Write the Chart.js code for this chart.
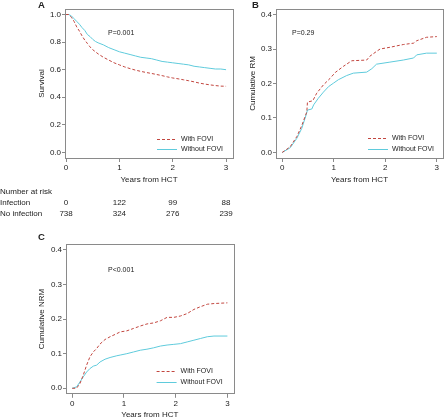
<!DOCTYPE html>
<html><head><meta charset="utf-8">
<script src="https://cdn.jsdelivr.net/npm/chart.js@4.4.1/dist/chart.umd.min.js"></script>
<style>
html,body{margin:0;padding:0;background:#fff;}
body{width:444px;height:420px;position:relative;overflow:hidden;font-family:"Liberation Sans",Arial,sans-serif;color:#222;}
canvas{position:absolute;}
.lbl{position:absolute;font-size:8px;line-height:10px;white-space:nowrap;}
.num{transform:translateX(-50%);}
.panel{position:absolute;font-weight:bold;font-size:9.5px;line-height:10px;}
</style></head><body>
<canvas id="cA" width="240" height="190" style="left:0;top:0;width:240px;height:190px"></canvas>
<canvas id="cB" width="222" height="190" style="left:222px;top:0;width:222px;height:190px"></canvas>
<canvas id="cC" width="240" height="190" style="left:0;top:230px;width:240px;height:190px"></canvas>
<div class="panel" style="left:38px;top:0px">A</div>
<div class="panel" style="left:252px;top:0px">B</div>
<div class="panel" style="left:38px;top:232px">C</div>
<div id="risk"></div>
<script>
// ---- data ----
const seriesLabels = ['With FOVI', 'Without FOVI'];
const xTicks = [0, 1, 2, 3];
const yTicksA = [0, 0.2, 0.4, 0.6, 0.8, 1.0];
const yTicksBC = [0, 0.1, 0.2, 0.3, 0.4];

// Panel A: survival
const timesA = [0,0.05,0.1,0.15,0.2,0.25,0.3,0.35,0.4,0.45,0.5,0.55,0.6,0.7,0.8,0.9,1.0,1.1,1.2,1.3,1.4,1.5,1.6,1.7,1.8,1.9,2.0,2.1,2.2,2.3,2.4,2.5,2.6,2.7,2.8,2.9,3.0];
const survWithA = [1.0,1.0,0.98,0.95,0.91,0.88,0.845,0.815,0.79,0.765,0.745,0.73,0.715,0.69,0.67,0.65,0.635,0.62,0.608,0.597,0.588,0.58,0.573,0.565,0.557,0.548,0.54,0.534,0.527,0.52,0.512,0.503,0.496,0.49,0.485,0.481,0.48];
const survWithoutA = [1.0,1.0,0.99,0.97,0.95,0.93,0.905,0.885,0.855,0.84,0.82,0.805,0.795,0.78,0.76,0.745,0.73,0.72,0.71,0.70,0.69,0.685,0.68,0.67,0.66,0.655,0.65,0.645,0.64,0.635,0.625,0.62,0.615,0.61,0.605,0.605,0.60];

// Panel B: cumulative RM
const timesWithB = [0,0.155,0.284,0.38,0.478,0.49,0.594,0.67,0.80,0.93,1.03,1.19,1.35,1.64,1.70,1.83,1.90,2.09,2.35,2.55,2.61,2.80,3.0];
const rmWithB = [0,0.0165,0.046,0.078,0.118,0.146,0.15,0.172,0.196,0.215,0.232,0.25,0.266,0.268,0.279,0.293,0.30,0.305,0.313,0.317,0.324,0.334,0.336];
const timesWithoutB = [0,0.155,0.284,0.38,0.465,0.49,0.575,0.61,0.70,0.80,0.90,0.995,1.09,1.25,1.38,1.64,1.74,1.83,2.09,2.35,2.55,2.61,2.80,3.0];
const rmWithoutB = [0,0.0136,0.041,0.07,0.109,0.123,0.126,0.138,0.157,0.175,0.191,0.201,0.211,0.223,0.23,0.233,0.243,0.256,0.262,0.268,0.274,0.283,0.288,0.288];

// Panel C: cumulative NRM
const timesC = [0,0.084,0.149,0.214,0.279,0.343,0.408,0.473,0.538,0.635,0.732,0.862,0.927,1.056,1.186,1.316,1.445,1.575,1.704,1.834,1.964,2.093,2.223,2.353,2.482,2.612,2.741,3.0];
const nrmWithC = [0,0,0.0135,0.038,0.067,0.091,0.105,0.115,0.128,0.141,0.149,0.158,0.163,0.166,0.173,0.18,0.186,0.189,0.195,0.205,0.205,0.209,0.216,0.228,0.236,0.243,0.245,0.247];
const nrmWithoutC = [0,0.004,0.018,0.033,0.047,0.057,0.064,0.067,0.076,0.084,0.089,0.094,0.096,0.10,0.105,0.11,0.113,0.117,0.122,0.125,0.127,0.129,0.134,0.139,0.144,0.149,0.151,0.151];

// Number at risk
const riskTimes = [0, 1, 2, 3];
const riskInfection = [0, 122, 99, 88];
const riskNoInfection = [738, 324, 276, 239];

// ---- drawing ----
const FONT = '"Liberation Sans", Arial, sans-serif';
Chart.defaults.font.family = FONT;
Chart.defaults.font.size = 8;
Chart.defaults.color = '#222';
const AXIS = '#8a8a8a';
const RED = '#c2463f';
const CYAN = '#5fcbdc';

function pts(t, v) { return t.map((x, i) => ({x: x, y: v[i]})); }

const boxPlugin = {
  id: 'box',
  afterDatasetsDraw(chart) {
    const {ctx, chartArea: a} = chart;
    ctx.save();
    ctx.strokeStyle = AXIS; ctx.lineWidth = 1;
    ctx.strokeRect(Math.round(a.left) + 0.5, Math.round(a.top) + 0.5, Math.round(a.right - a.left), Math.round(a.bottom - a.top));
    ctx.restore();
  }
};
const notePlugin = {
  id: 'note',
  afterDraw(chart, args, o) {
    const {ctx, chartArea: a} = chart;
    ctx.save();
    ctx.font = '7px ' + FONT;
    ctx.fillStyle = '#222';
    ctx.textBaseline = 'middle';
    ctx.textAlign = 'left';
    ctx.fillText(o.pText, o.pX, o.pY);
    chart.data.datasets.forEach((ds, i) => {
      const y = Math.round(a.bottom - o.legBottom[i]) + 0.5;
      const x1 = a.right - o.legRight;
      ctx.strokeStyle = ds.borderColor; ctx.lineWidth = 1;
      ctx.setLineDash(ds.borderDash || []);
      ctx.beginPath(); ctx.moveTo(x1, y); ctx.lineTo(x1 + 20, y); ctx.stroke();
      ctx.setLineDash([]);
      ctx.fillText(ds.label, x1 + 24, y);
    });
    ctx.restore();
  }
};

function make(id, c) {
  const gridOpts = {drawOnChartArea: false, drawTicks: true, tickLength: 3, color: AXIS};
  return new Chart(document.getElementById(id), {
    type: 'line',
    data: {datasets: [
      {label: seriesLabels[0], data: pts(c.t1, c.v1), borderColor: RED, borderDash: [3, 2], borderWidth: 1, pointRadius: 0, tension: 0, fill: false},
      {label: seriesLabels[1], data: pts(c.t2, c.v2), borderColor: CYAN, borderWidth: 1, pointRadius: 0, tension: 0, fill: false}
    ]},
    options: {
      responsive: false, animation: false, devicePixelRatio: 1,
      layout: {padding: c.pad},
      plugins: {legend: {display: false}, tooltip: {enabled: false}, note: c.note},
      scales: {
        x: {type: 'linear', min: c.xmin, max: c.xmax,
          afterBuildTicks: s => { s.ticks = xTicks.map(v => ({value: v})); },
          afterFit: s => { s.height = c.xh; },
          grid: Object.assign({}, gridOpts, {tickLength: 4}), border: {display: false},
          ticks: {padding: 1, maxRotation: 0, autoSkip: false, callback: v => String(v)},
          title: {display: true, text: 'Years from HCT', padding: {top: 0, bottom: c.xtPad}}},
        y: {type: 'linear', min: c.ymin, max: c.ymax,
          afterBuildTicks: s => { s.ticks = c.yt.map(v => ({value: v})); },
          afterFit: s => { s.width = c.yw; },
          grid: gridOpts, border: {display: false},
          ticks: {padding: 1, autoSkip: false, callback: v => Number(v).toFixed(1)},
          title: {display: true, text: c.ytitle, padding: {top: c.ytPad, bottom: 0}}}
      }
    },
    plugins: [boxPlugin, notePlugin]
  });
}

const chartA = make('cA', {t1: timesA, v1: survWithA, t2: timesA, v2: survWithoutA,
  pad: {left: 0, top: 9, right: 7, bottom: 0}, xh: 32, yw: 65, xtPad: 5, ytPad: 37,
  xmin: -0.02, xmax: 3.13, ymin: -0.04, ymax: 1.04, yt: yTicksA, ytitle: 'Survival',
  note: {pText: 'P=0.001', pX: 108, pY: 33, legRight: 76, legBottom: [19.5, 9]}});
make('cB', {t1: timesWithB, v1: rmWithB, t2: timesWithoutB, v2: rmWithoutB,
  pad: {left: 0, top: 9, right: 1, bottom: 0}, xh: 32, yw: 54, xtPad: 5, ytPad: 26,
  xmin: -0.12, xmax: 3.12, ymin: -0.016, ymax: 0.416, yt: yTicksBC, ytitle: 'Cumulative RM',
  note: {pText: 'P=0.29', pX: 70, pY: 33, legRight: 75, legBottom: [20, 9]}});
make('cC', {t1: timesC, v1: nrmWithC, t2: timesC, v2: nrmWithoutC,
  pad: {left: 0, top: 14.4, right: 6.4, bottom: 0}, xh: 26.2, yw: 66, xtPad: 0, ytPad: 37,
  xmin: -0.12, xmax: 3.12, ymin: -0.016, ymax: 0.416, yt: yTicksBC, ytitle: 'Cumulative NRM',
  note: {pText: 'P<0.001', pX: 108, pY: 40, legRight: 77, legBottom: [23, 12]}});

// Number-at-risk table aligned to panel A's x scale
(function () {
  const risk = document.getElementById('risk');
  function add(text, left, top, cls) {
    const d = document.createElement('div');
    d.className = 'lbl' + (cls ? ' ' + cls : '');
    d.style.left = left + 'px'; d.style.top = top + 'px';
    d.textContent = text;
    risk.appendChild(d);
  }
  add('Number at risk', 0, 187);
  add('Infection', 0, 198);
  add('No infection', 0, 209);
  const sx = chartA.scales.x;
  riskTimes.forEach((t, i) => {
    const px = sx.getPixelForValue(t);
    add(String(riskInfection[i]), px, 198, 'num');
    add(String(riskNoInfection[i]), px, 209, 'num');
  });
})();
</script>
</body></html>
